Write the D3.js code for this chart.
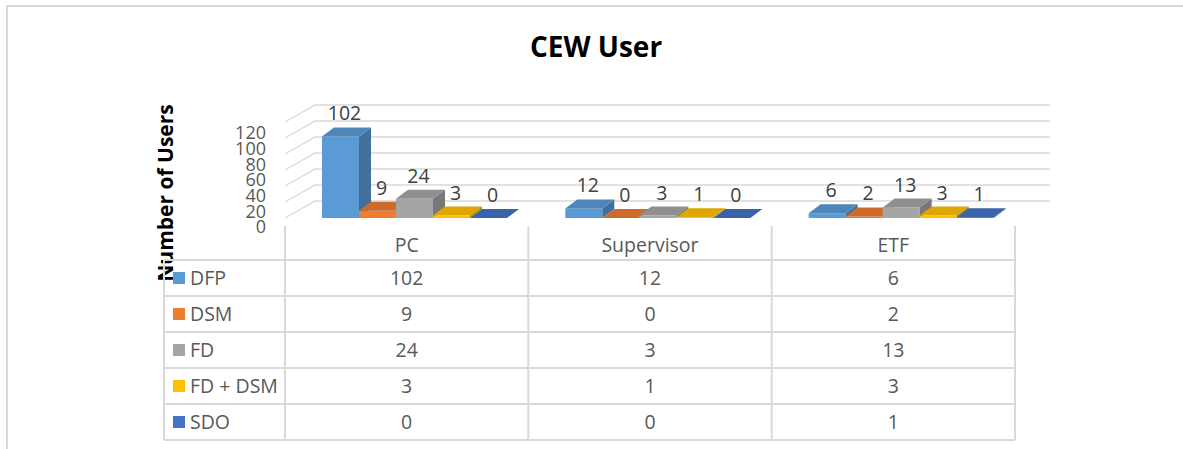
<!DOCTYPE html>
<html>
<head>
<meta charset="utf-8">
<script src="https://cdn.jsdelivr.net/npm/d3@7"></script>
<style>
	body { margin: 0; background: #fff; }
	text { font-family: 'Open Sans', sans-serif; }
</style>
</head>
<body>
<svg id="chart" width="1183" height="449"></svg>
<script>

var categories = ['PC', 'Supervisor', 'ETF'];
var series = ['DFP', 'DSM', 'FD', 'FD + DSM', 'SDO'];
var colors = ['#5B9BD5', '#ED7D31', '#A5A5A5', '#FFC000', '#4472C4'];
var DFP = [102, 12, 6];
var DSM = [9, 0, 2];
var FD = [24, 3, 13];
var FDDSM = [3, 1, 3];
var SDO = [0, 0, 1];
var values = [DFP, DSM, FD, FDDSM, SDO];
var ticks = [0, 20, 40, 60, 80, 100, 120];

var svg = d3.select('#chart');
var grid = '#d9d9d9';
var textcolor = '#595959';

// frame
svg.append('path')
	.attr('d', 'M7,449 V6 H1183')
	.attr('fill', 'none')
	.attr('stroke', grid)
	.attr('stroke-width', 2);

svg.append('text')
	.attr('x', 596).attr('y', 57)
	.attr('text-anchor', 'middle')
	.attr('font-size', 28).attr('font-weight', 'bold')
	.attr('fill', '#000')
	.text('CEW User');

// 3d geometry
var depth = { dx: 30, dy: -17 };
var bdepth = { dx: 12, dy: -9 };
var x = d3.scaleBand().domain(categories).range([285, 1015]);
var xs = d3.scaleBand().domain(series).range([37, 37 + 185]);
var y = d3.scaleLinear().domain([0, 120]).range([218, 122]);
var ylab = d3.scaleLinear().domain([0, 120]).range([227, 133]);

// side wall + back wall gridlines
var g = svg.append('g');
ticks.forEach(function(t) {
	var yf = y(t);
	g.append('path')
		.attr('d', 'M285,' + yf + ' L' + (285 + depth.dx) + ',' + (yf + depth.dy) + ' H' + (1020 + depth.dx))
		.attr('fill', 'none')
		.attr('stroke', grid)
		.attr('stroke-width', 1.4);
});

// tick labels
var axis = svg.append('g')
	.attr('transform', 'translate(266,0)')
	.call(d3.axisLeft(ylab).tickValues(ticks).tickSize(0).tickPadding(0));
axis.select('.domain').remove();
axis.selectAll('text')
	.attr('font-size', 18)
	.attr('font-family', "'Open Sans', sans-serif")
	.attr('fill', textcolor);

svg.append('text')
	.attr('transform', 'translate(173,193) rotate(-90)')
	.attr('text-anchor', 'middle')
	.attr('font-size', 21).attr('font-weight', 'bold')
	.attr('fill', '#000')
	.text('Number of Users');

// bars
var bars = svg.append('g');
categories.forEach(function(cat, ci) {
	series.forEach(function(s, si) {
		var v = values[si][ci];
		var bx = x(cat) + xs(s);
		var w = xs.bandwidth();
		var yv = y(v), y0 = y(0);
		var c = d3.color(colors[si]);
		bars.append('rect')
			.attr('x', bx).attr('y', yv)
			.attr('width', w).attr('height', y0 - yv)
			.attr('fill', c.formatHex());
		bars.append('polygon')
			.attr('points', [[bx + w, yv], [bx + w + bdepth.dx, yv + bdepth.dy], [bx + w + bdepth.dx, y0 + bdepth.dy], [bx + w, y0]].join(' '))
			.attr('fill', c.darker(0.9).formatHex());
		bars.append('polygon')
			.attr('points', [[bx, yv], [bx + w, yv], [bx + w + bdepth.dx, yv + bdepth.dy], [bx + bdepth.dx, yv + bdepth.dy]].join(' '))
			.attr('fill', c.darker(0.4).formatHex());
		bars.append('text')
			.attr('x', bx + w / 2 + bdepth.dx / 2 - 2)
			.attr('y', yv + bdepth.dy - 7)
			.attr('text-anchor', 'middle')
			.attr('font-size', 19.5)
			.attr('fill', '#404040')
			.text(v);
	});
});

// data table
var rowH = 36;
var tableTop = 226, head = 260;
var tbl = svg.append('g');
var lines = [];
lines.push([164, head, 1015, head]);
series.forEach(function(s, i) {
	lines.push([164, head + rowH * (i + 1), 1015, head + rowH * (i + 1)]);
});
lines.push([164, head, 164, head + rowH * series.length]);
categories.forEach(function(cat) {
	lines.push([x(cat), tableTop, x(cat), head + rowH * series.length]);
});
lines.push([1015, tableTop, 1015, head + rowH * series.length]);
tbl.selectAll('line').data(lines).enter().append('line')
	.attr('x1', function(d) { return d[0]; })
	.attr('y1', function(d) { return d[1]; })
	.attr('x2', function(d) { return d[2]; })
	.attr('y2', function(d) { return d[3]; })
	.attr('stroke', grid)
	.attr('stroke-width', 2);

categories.forEach(function(cat, ci) {
	var cx = x(cat) + x.bandwidth() / 2;
	tbl.append('text')
		.attr('x', cx).attr('y', (tableTop + head) / 2 + 9)
		.attr('text-anchor', 'middle')
		.attr('font-size', 19.5).attr('fill', textcolor)
		.text(cat);
	series.forEach(function(s, si) {
		tbl.append('text')
			.attr('x', cx).attr('y', head + rowH * si + rowH / 2 + 7)
			.attr('text-anchor', 'middle')
			.attr('font-size', 19.5).attr('fill', textcolor)
			.text(values[si][ci]);
	});
});

series.forEach(function(s, si) {
	var cy = head + rowH * si + rowH / 2;
	tbl.append('rect')
		.attr('x', 173).attr('y', cy - 6)
		.attr('width', 12).attr('height', 12)
		.attr('fill', colors[si]);
	tbl.append('text')
		.attr('x', 190).attr('y', cy + 7)
		.attr('font-size', 19.5).attr('fill', textcolor)
		.text(s);
});

</script>
</body>
</html>
